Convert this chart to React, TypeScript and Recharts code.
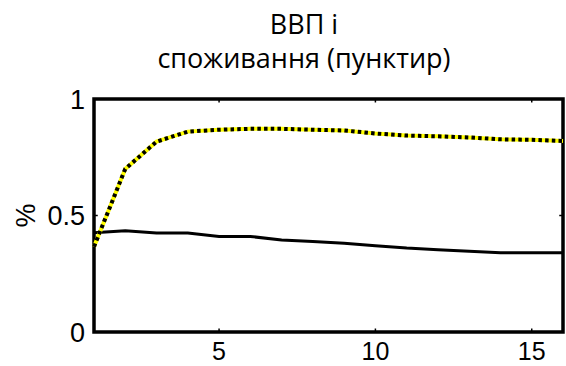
import {
  LineChart,
  Line,
  XAxis,
  YAxis,
  ReferenceArea,
  ReferenceLine,
} from 'recharts';

// Periods 1..16
const periods = [1, 2, 3, 4, 5, 6, 7, 8, 9, 10, 11, 12, 13, 14, 15, 16];
// ВВП (solid black)
const gdp = [0.426, 0.435, 0.425, 0.425, 0.41, 0.41, 0.395, 0.388, 0.381, 0.37, 0.36, 0.353, 0.347, 0.34, 0.34, 0.34];
// споживання (yellow/black dotted)
const consumption = [0.366, 0.7, 0.817, 0.86, 0.868, 0.872, 0.872, 0.868, 0.865, 0.852, 0.843, 0.84, 0.835, 0.827, 0.825, 0.82];

const xTicks = [5, 10, 15];
const yTicks = [0, 0.5, 1];
const titleLines = ['ВВП і', 'споживання (пунктир)'];
const yLabel = '%';

const data = periods.map((p, i) => ({ t: p, gdp: gdp[i], cons: consumption[i] }));

const W = 566;
const H = 366;
const tickFont = { fontFamily: '"Liberation Sans", Arial, sans-serif', fontSize: 27, fill: '#000' };

export default function App() {
  return (
    <div style={{ position: 'absolute', left: 0, top: 0, width: W, height: H, background: '#fff' }}>
      <LineChart
        width={W}
        height={H}
        data={data}
        margin={{ top: 99, right: 3, bottom: 0, left: 0 }}
      >
        <XAxis
          dataKey="t"
          type="number"
          domain={[1, 16]}
          ticks={xTicks}
          height={34}
          axisLine={false}
          tickLine={false}
          tickSize={0}
          tickMargin={10}
          tick={{ ...tickFont, fontSize: 25 }}
        />
        <YAxis
          type="number"
          domain={[0, 1]}
          ticks={yTicks}
          width={94}
          axisLine={false}
          tickLine={false}
          tickSize={0}
          tickMargin={9}
          tick={tickFont}
          tickFormatter={(v) => String(v)}
          label={{
            value: yLabel,
            angle: -90,
            position: 'center',
            dx: -22,
            style: { ...tickFont, textAnchor: 'middle' },
          }}
        />
        {/* inward tick marks, bottom/top and left/right */}
        {xTicks.map((v) => (
          <ReferenceLine
            key={'b' + v}
            segment={[{ x: v, y: 0 }, { x: v, y: 0.015 }]}
            stroke="#000"
            strokeWidth={1.5}
          />
        ))}
        {xTicks.map((v) => (
          <ReferenceLine
            key={'t' + v}
            segment={[{ x: v, y: 1 }, { x: v, y: 0.985 }]}
            stroke="#000"
            strokeWidth={1.5}
          />
        ))}
        <ReferenceLine segment={[{ x: 1, y: 0.5 }, { x: 1.12, y: 0.5 }]} stroke="#000" strokeWidth={1.5} />
        <ReferenceLine segment={[{ x: 16, y: 0.5 }, { x: 15.88, y: 0.5 }]} stroke="#000" strokeWidth={1.5} />
        <Line
          dataKey="gdp"
          type="linear"
          stroke="#000"
          strokeWidth={3}
          dot={false}
          isAnimationActive={false}
        />
        <Line
          dataKey="cons"
          type="linear"
          stroke="#ffff00"
          strokeWidth={4}
          dot={false}
          isAnimationActive={false}
        />
        <Line
          dataKey="cons"
          type="linear"
          stroke="#000"
          strokeWidth={4}
          strokeDasharray="3.5 3.2"
          dot={false}
          isAnimationActive={false}
        />
        <ReferenceArea
          x1={1}
          x2={16}
          y1={0}
          y2={1}
          fill="none"
          stroke="#000"
          strokeWidth={3.5}
          ifOverflow="visible"
        />
      </LineChart>
      <svg
        width={W}
        height={90}
        style={{ position: 'absolute', left: 0, top: 0, pointerEvents: 'none' }}
      >
        {titleLines.map((line, i) => (
          <text
            key={i}
            x={304}
            y={34 + i * 34}
            textAnchor="middle"
            style={{ fontFamily: '"Open Sans", sans-serif', fontSize: 27, fill: '#000' }}
          >
            {line}
          </text>
        ))}
      </svg>
    </div>
  );
}
